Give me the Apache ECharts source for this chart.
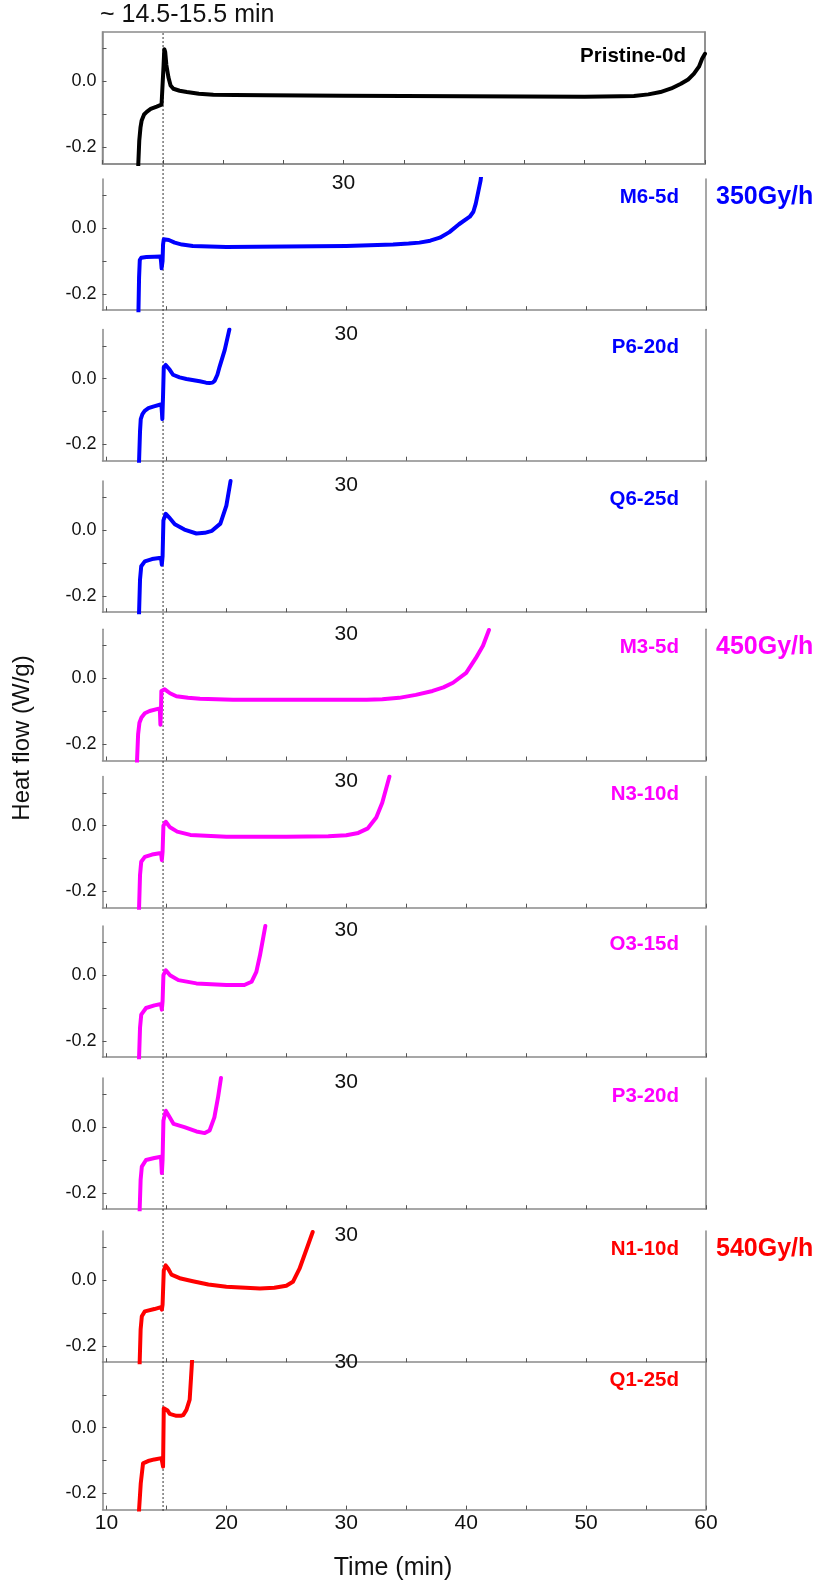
<!DOCTYPE html>
<html><head><meta charset="utf-8">
<script src="https://cdn.jsdelivr.net/npm/echarts@6/dist/echarts.min.js"></script>
<style>html,body{margin:0;padding:0;background:#fff}#c{width:819px;height:1583px}</style>
</head><body><div id="c"></div>
<script>
// ---------------- data ----------------
const xTickLabels = [10, 20, 30, 40, 50, 60];
const xTicks = [10, 15, 20, 25, 30, 35, 40, 45, 50, 55, 60];
const yTickLabels = [-0.2, 0.0];
const yTicks = [-0.2, -0.1, 0.0, 0.1];
const markerTime = 14.72; // "~ 14.5-15.5 min" marker
const sampleNames = ['Pristine-0d','M6-5d','P6-20d','Q6-25d','M3-5d','N3-10d','O3-15d','P3-20d','N1-10d','Q1-25d'];
const doseRates = ['350Gy/h','450Gy/h','540Gy/h'];

const pristine = [[12.95,-0.3],[12.97,-0.25],[13.05,-0.18],[13.15,-0.14],[13.25,-0.118],[13.45,-0.1],[13.67,-0.092],[14.0,-0.083],[14.5,-0.076],[14.9,-0.07],[15.0,-0.067],[15.07,0.05],[15.13,0.098],[15.2,0.09],[15.3,0.05],[15.47,0.013],[15.65,-0.012],[15.88,-0.022],[16.4,-0.028],[17,-0.032],[18,-0.037],[19.2,-0.040],[21,-0.041],[23.6,-0.042],[30,-0.043],[40,-0.045],[50,-0.046],[53,-0.045],[54.1,-0.044],[55.3,-0.039],[56.3,-0.032],[57.2,-0.021],[58,-0.007],[58.6,0.006],[59.07,0.023],[59.5,0.045],[59.76,0.069],[60,0.084]];
const m6 = [[12.65,-0.3],[12.67,-0.25],[12.72,-0.15],[12.78,-0.097],[12.9,-0.09],[13.33,-0.088],[14.0,-0.087],[14.5,-0.086],[14.55,-0.1],[14.6,-0.122],[14.68,-0.1],[14.72,-0.05],[14.78,-0.034],[14.94,-0.029],[15.2,-0.036],[15.69,-0.044],[16.3,-0.05],[17.2,-0.054],[20,-0.057],[25,-0.056],[30,-0.054],[33.9,-0.05],[35.2,-0.047],[36.1,-0.044],[37,-0.038],[37.8,-0.029],[38.6,-0.012],[39.4,0.012],[40.3,0.035],[40.6,0.05],[40.8,0.075],[41.0,0.11],[41.2,0.145],[41.25,0.16]];
const p6 = [[12.7,-0.3],[12.72,-0.25],[12.8,-0.16],[12.86,-0.123],[13.0,-0.108],[13.19,-0.098],[13.5,-0.09],[13.89,-0.085],[14.58,-0.078],[14.62,-0.1],[14.66,-0.123],[14.72,-0.05],[14.78,0.035],[14.94,0.042],[15.1,0.036],[15.28,0.027],[15.55,0.012],[16.1,0.004],[16.67,-0.001],[17.78,-0.008],[18.3,-0.012],[18.6,-0.013],[18.85,-0.012],[19.03,-0.006],[19.25,0.012],[19.44,0.037],[19.86,0.087],[20.2,0.142],[20.25,0.15]];
const q6 = [[12.7,-0.3],[12.72,-0.25],[12.8,-0.15],[12.9,-0.11],[13.2,-0.095],[13.8,-0.088],[14.55,-0.084],[14.62,-0.105],[14.68,-0.08],[14.75,0.03],[14.95,0.05],[15.2,0.04],[15.7,0.018],[16.5,0.002],[17.5,-0.01],[18.2,-0.008],[18.8,-0.002],[19.5,0.02],[20.0,0.075],[20.35,0.15]];
const m3 = [[12.53,-0.3],[12.55,-0.25],[12.64,-0.17],[12.75,-0.135],[12.92,-0.119],[13.2,-0.106],[13.6,-0.099],[14.44,-0.091],[14.47,-0.11],[14.5,-0.141],[14.55,-0.09],[14.58,-0.038],[14.86,-0.033],[15.3,-0.045],[15.83,-0.054],[16.8,-0.059],[17.8,-0.062],[20.55,-0.065],[31.7,-0.065],[33,-0.063],[34.4,-0.059],[35.8,-0.05],[37.2,-0.038],[38.1,-0.027],[38.9,-0.013],[40.0,0.017],[40.8,0.062],[41.4,0.1],[41.9,0.148]];
const n3 = [[12.7,-0.3],[12.72,-0.25],[12.8,-0.15],[12.9,-0.11],[13.2,-0.095],[13.8,-0.088],[14.55,-0.083],[14.62,-0.105],[14.68,-0.08],[14.75,0.0],[14.95,0.012],[15.3,-0.005],[15.9,-0.018],[17,-0.028],[20,-0.034],[25,-0.034],[28.5,-0.032],[30,-0.029],[31,-0.022],[31.8,-0.008],[32.5,0.025],[33.0,0.07],[33.6,0.15]];
const o3 = [[12.7,-0.3],[12.72,-0.25],[12.8,-0.16],[12.9,-0.12],[13.3,-0.1],[14.0,-0.092],[14.55,-0.088],[14.62,-0.105],[14.68,-0.08],[14.75,0.0],[14.95,0.015],[15.3,0.0],[16,-0.015],[17.5,-0.025],[20,-0.03],[21.5,-0.03],[22.1,-0.02],[22.5,0.01],[22.8,0.06],[23.1,0.12],[23.25,0.15]];
const p3 = [[12.75,-0.3],[12.77,-0.25],[12.85,-0.16],[12.95,-0.12],[13.3,-0.1],[14.0,-0.094],[14.55,-0.09],[14.62,-0.14],[14.68,-0.1],[14.75,0.02],[14.95,0.05],[15.2,0.035],[15.6,0.01],[16.5,0.0],[17.5,-0.013],[18.2,-0.018],[18.6,-0.01],[19.0,0.03],[19.3,0.09],[19.55,0.15]];
const n1 = [[12.75,-0.3],[12.77,-0.25],[12.85,-0.15],[12.95,-0.11],[13.2,-0.095],[14.0,-0.088],[14.55,-0.082],[14.62,-0.09],[14.68,-0.075],[14.78,0.03],[14.94,0.045],[15.15,0.035],[15.42,0.017],[16.2,0.005],[17.2,-0.003],[18.5,-0.013],[20,-0.02],[22.8,-0.025],[24,-0.023],[25,-0.017],[25.55,-0.005],[26.1,0.035],[26.7,0.096],[27.2,0.147]];
const q1 = [[12.7,-0.3],[12.72,-0.25],[12.86,-0.17],[13.05,-0.109],[13.47,-0.102],[14.0,-0.097],[14.58,-0.093],[14.65,-0.105],[14.72,-0.119],[14.78,0.059],[14.94,0.064],[15.1,0.052],[15.28,0.042],[15.83,0.036],[16.2,0.036],[16.4,0.038],[16.67,0.054],[16.94,0.085],[17.05,0.15],[17.15,0.21]];

const curves = [pristine, m6, p6, q6, m3, n3, o3, p3, n1, q1];
const yMax = [0.15, 0.15, 0.15, 0.15, 0.15, 0.15, 0.15, 0.15, 0.15, 0.2];

// ---------------- style / layout ----------------
const BLACK = '#000000', BLUE = '#0000ff', MAG = '#ff00ff', RED = '#ff0000';
const colors = [BLACK, BLUE, BLUE, BLUE, MAG, MAG, MAG, MAG, RED, RED];
const rateColors = [BLUE, MAG, RED];
const ratePanel = [1, 4, 8];
const FONT = '"Liberation Sans", Arial, sans-serif';
const AXC = '#8a8a8a';
const PXPERUNIT = 328; // px per 1.0 W/g
const panelTops = [32, 179, 329.5, 481, 629.3, 776.5, 926, 1078, 1231, 1362];
const labelShift = [0, 0, 0, 0, 0, 0, 0, 0, -4, 0];
const panelH = yMax.map((m, i) => i === 0 ? 132 : (m + 0.25) * PXPERUNIT);

const chart = echarts.init(document.getElementById('c'), null, {renderer: 'canvas'});

const grids = [], xAxes = [], yAxes = [], series = [];
for (let i = 0; i < 10; i++) {
  const top = i === 0;
  const last = i === 9;
  grids.push({left: 102.5, right: top ? 114 : 113, top: panelTops[i], height: panelH[i],
    show: top, borderColor: AXC, borderWidth: 1.5, containLabel: false});
  const bottom = panelTops[i] + panelH[i];
  const margin = last ? 3 : (panelTops[i + 1] + 4.5) - bottom - 10.5 + labelShift[i];
  xAxes.push({type: 'value', gridIndex: i, min: top ? 10 : 9.67, max: 60,
    axisLine: {show: true, onZero: false, lineStyle: {color: AXC, width: 1.5}},
    axisTick: {show: true, inside: true, length: 4, customValues: xTicks, lineStyle: {color: '#555', width: 1}},
    axisLabel: {show: true, customValues: last ? xTickLabels : [30], margin: margin,
      fontSize: 21, color: '#111', fontFamily: FONT},
    splitLine: {show: false}
  });
  yAxes.push({type: 'value', gridIndex: i, min: -0.25, max: yMax[i],
    axisLine: {show: true, onZero: false, lineStyle: {color: AXC, width: 1.5}},
    axisTick: {show: true, inside: true, length: 4, customValues: yTicks, lineStyle: {color: '#555', width: 1}},
    axisLabel: {show: true, customValues: yTickLabels, margin: 6, fontSize: 18, color: '#111', fontFamily: FONT,
      formatter: v => v.toFixed(1)},
    splitLine: {show: false}
  });
  yAxes.push({type: 'value', gridIndex: i, position: 'right', min: -0.25, max: yMax[i],
    axisLine: {show: true, onZero: false, lineStyle: {color: AXC, width: 1.5}},
    axisTick: {show: false}, axisLabel: {show: false}, splitLine: {show: false}
  });
  series.push({type: 'line', xAxisIndex: i, yAxisIndex: i * 2, data: curves[i],
    showSymbol: false, symbol: 'none', smooth: false, clip: true,
    lineStyle: {color: colors[i], width: 4, cap: 'round', join: 'round'}, z: 3, animation: false});
}

chart.setOption({
  animation: false,
  grid: grids, xAxis: xAxes, yAxis: yAxes, series: series
});

// annotations
const g = [];
const mx = chart.convertToPixel({xAxisIndex: 9}, markerTime);
g.push({type: 'line', shape: {x1: mx, y1: 33, x2: mx, y2: 1512}, silent: true,
  style: {stroke: '#333', lineWidth: 1, lineDash: [2, 2]}, z: 1});
g.push({type: 'text', left: 100, top: 3, style: {text: '~ 14.5-15.5 min', fontSize: 25, fill: '#111', fontFamily: FONT}});
g.push({type: 'text', x: 22, y: 738, rotation: Math.PI / 2,
  style: {text: 'Heat flow (W/g)', fontSize: 24, fill: '#111', fontFamily: FONT, align: 'center', verticalAlign: 'middle'}});
g.push({type: 'text', x: 393, y: 1568,
  style: {text: 'Time (min)', fontSize: 25, fill: '#111', fontFamily: FONT, align: 'center', verticalAlign: 'middle'}});
for (let i = 0; i < 10; i++) {
  const y = panelTops[i] + (i === 0 ? 24 : 18);
  const xr = i === 0 ? 686 : 679;
  g.push({type: 'text', x: xr, y: y, style: {text: sampleNames[i], fontSize: 20.5, fontWeight: 'bold',
    fill: colors[i], fontFamily: FONT, align: 'right', verticalAlign: 'middle'}});
}
for (let k = 0; k < 3; k++) {
  const p = ratePanel[k];
  g.push({type: 'text', x: 716, y: panelTops[p] + 18, style: {text: doseRates[k], fontSize: 25, fontWeight: 'bold',
    fill: rateColors[k], fontFamily: FONT, align: 'left', verticalAlign: 'middle'}});
}
chart.setOption({graphic: g});
</script></body></html>
